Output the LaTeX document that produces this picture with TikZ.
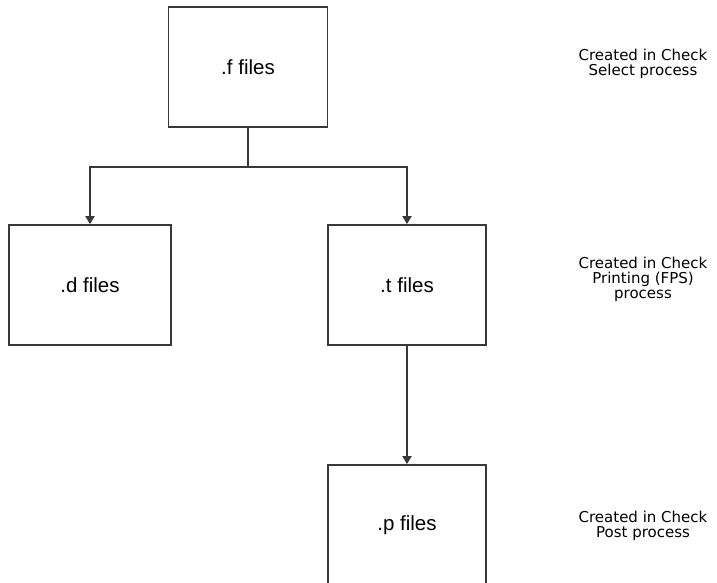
\documentclass[tikz,border=0pt]{standalone}
\usepackage{fontspec}
\usetikzlibrary{arrows.meta}
\newfontfamily\boxfont{Liberation Sans}
\newfontfamily\notefont{DejaVu Sans}
\definecolor{ink}{HTML}{383838}
\tikzset{
  filebox/.style={draw=ink, line width=1.8pt, fill=white, inner sep=0pt,
    minimum width=159pt, minimum height=120pt,
    font=\boxfont\fontsize{20.5}{24}\selectfont, text=black},
  note/.style={align=center, inner sep=0pt, text=black,
    font=\notefont\fontsize{15}{15}\selectfont},
  link/.style={draw=ink, line width=1.8pt},
  flow/.style={link, -{Triangle[width=9pt,length=8pt]}}
}
\begin{document}
\begin{tikzpicture}[x=1pt, y=-1pt]
  \useasboundingbox (0,0) rectangle (717,582);
  \clip (0,0) rectangle (717,582);

  % file stages
  \node[filebox] (f) at (248,67) {.f files};
  \node[filebox, minimum width=162pt] (d) at (90,285) {.d files};
  \node[filebox, minimum width=158pt] (t) at (407,285) {.t files};
  \node[filebox, minimum width=158pt] (p) at (407,525) {.p files};

  % branch point below the .f files box
  \coordinate (j) at (248,167);
  \draw[link] (f.south) -- (j);
  \draw[flow] (j) -| (d.north);
  \draw[flow] (j) -| (t.north);
  \draw[flow] (t.south) -- (p.north);

  % where each file type is produced
  \node[note] (nf) at (643,64) {Created in Check\\Select process};
  \node[note] (nt) at (643,279) {Created in Check\\Printing (FPS)\\process};
  \node[note] (np) at (643,526) {Created in Check\\Post process};
\end{tikzpicture}
\end{document}
